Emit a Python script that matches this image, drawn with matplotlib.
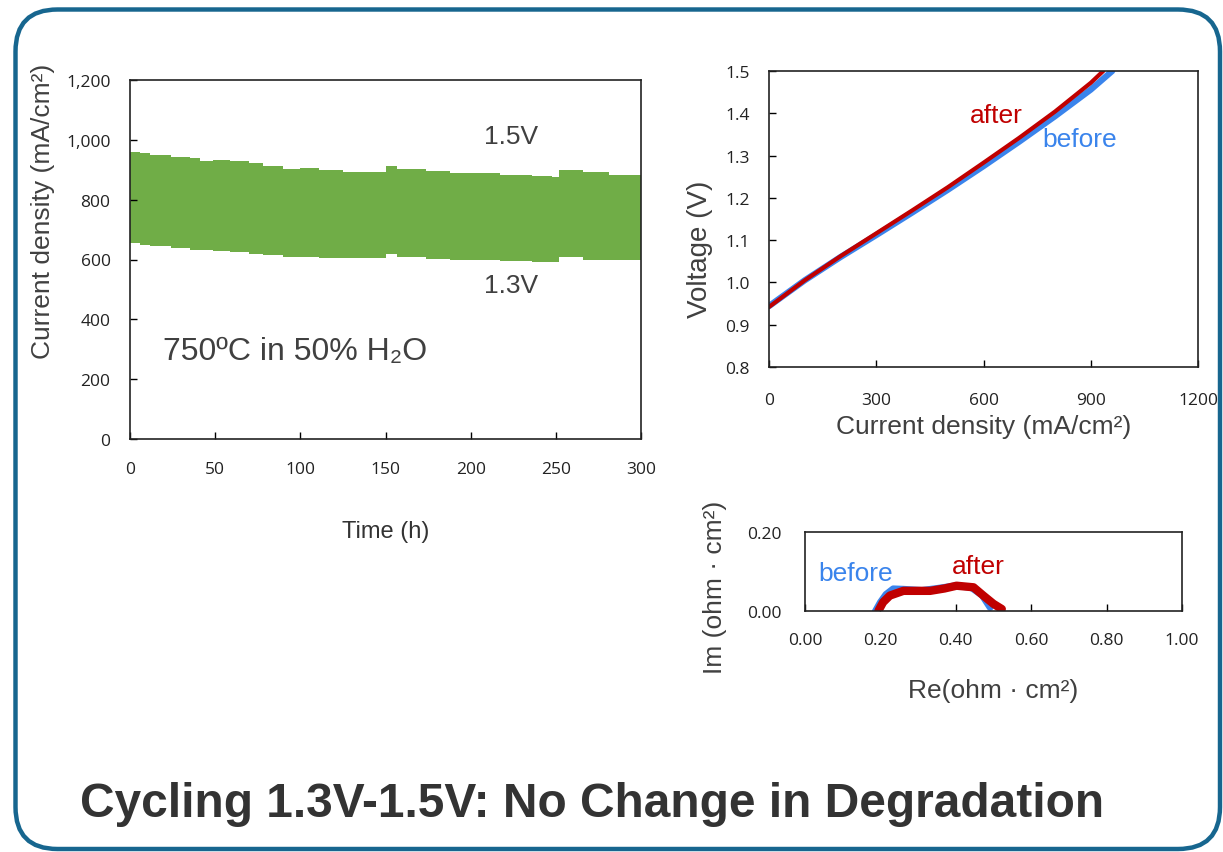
import numpy as np
import matplotlib
matplotlib.use('Agg')
import matplotlib.pyplot as plt
from matplotlib.patches import FancyBboxPatch
from matplotlib.ticker import FuncFormatter

plt.rcParams['font.family'] = ['Liberation Sans', 'DejaVu Sans']

# datos: ciclado 1.3V - 1.5V (densidad de corriente vs tiempo)
tiempo = [0, 6, 12, 24, 35, 41, 49, 59, 70, 78, 90, 100, 111, 125, 150, 157,
          174, 188, 217, 236, 248, 252, 266, 281, 300]
j_15V = [960, 956, 949, 942, 938, 928, 934, 930, 923, 914, 902, 905, 900, 893,
         911, 902, 897, 888, 883, 880, 877, 898, 893, 882, 877]
j_13V = [654, 650, 646, 640, 633, 631, 629, 626, 620, 615, 610, 607, 604, 604,
         617, 607, 603, 598, 596, 593, 593, 609, 600, 598, 598]

# curvas V-I antes / despues
j_before = [0, 100, 200, 300, 400, 500, 600, 700, 800, 900, 960]
v_before = [0.944, 1.005, 1.060, 1.112, 1.165, 1.219, 1.275, 1.333, 1.393, 1.456, 1.500]
j_after = [0, 100, 200, 300, 400, 500, 600, 700, 800, 900, 935]
v_after = [0.942, 1.005, 1.062, 1.116, 1.170, 1.225, 1.283, 1.342, 1.404, 1.472, 1.500]

# impedancia (Nyquist)
re_before = [0.186, 0.200, 0.215, 0.234, 0.26, 0.31, 0.35, 0.40, 0.44, 0.47, 0.491]
im_before = [-0.002, 0.022, 0.042, 0.056, 0.055, 0.052, 0.057, 0.064, 0.060, 0.040, 0.009]
re_after = [0.195, 0.207, 0.225, 0.261, 0.332, 0.37, 0.402, 0.447, 0.473, 0.500, 0.522]
im_after = [0.001, 0.022, 0.039, 0.051, 0.051, 0.057, 0.064, 0.060, 0.039, 0.018, 0.005]

gris = '#404040'
verde = '#70ad47'
rojo = '#c00000'
azul = '#3a84ec'
fuente_ticks = ['Open Sans', 'Liberation Sans']

fig = plt.figure(figsize=(12.23, 8.53), dpi=100)

# marco redondeado
marco = FancyBboxPatch((0.155, 0.03), 12.045, 8.395,
                       boxstyle='round,pad=0,rounding_size=0.42',
                       transform=fig.dpi_scale_trans, fill=False,
                       edgecolor='#17668f', linewidth=3.2)
fig.patches.append(marco)


def estilo_ticks(ax):
    for lab in ax.get_xticklabels() + ax.get_yticklabels():
        lab.set_family(fuente_ticks)
        lab.set_fontsize(12.5)
        lab.set_color('#222222')
    for s in ax.spines.values():
        s.set_linewidth(1.2)
        s.set_color('#222222')


# grafico izquierdo
ax1 = fig.add_axes([130/1223, 1-440/853, 511/1223, 359/853])
ax1.fill_between(tiempo, j_13V, j_15V, step='post', color=verde, linewidth=0)
ax1.set_xlim(0, 300)
ax1.set_ylim(0, 1200)
ax1.set_xticks(np.arange(0, 301, 50))
ax1.set_yticks(np.arange(0, 1201, 200))
ax1.yaxis.set_major_formatter(FuncFormatter(lambda v, p: f'{int(v):,}'))
ax1.tick_params(direction='in', length=5, width=1)
ax1.tick_params(axis='y', pad=14)
ax1.tick_params(axis='x', pad=16)
ax1.set_xlabel('Time (h)', fontsize=17, color='#333333', labelpad=31)
ax1.set_ylabel('Current density (mA/cm²)', fontsize=19, color=gris)
ax1.yaxis.set_label_coords(-0.147, 0.638)
ax1.text(0.065, 0.245, '750ºC in 50% H₂O', transform=ax1.transAxes,
         fontsize=23, color=gris, va='center')
ax1.text(0.745, 0.845, '1.5V', transform=ax1.transAxes, fontsize=19, color=gris,
         va='center', ha='center')
ax1.text(0.745, 0.43, '1.3V', transform=ax1.transAxes, fontsize=19, color=gris,
         va='center', ha='center')
estilo_ticks(ax1)

# grafico V-I
ax2 = fig.add_axes([769/1223, 1-368/853, 429/1223, 296/853])
ax2.plot(j_before, v_before, color=azul, linewidth=4.5, solid_capstyle='round')
ax2.plot(j_after, v_after, color=rojo, linewidth=3, solid_capstyle='round')
ax2.set_xlim(0, 1200)
ax2.set_ylim(0.8, 1.5)
ax2.set_xticks(np.arange(0, 1201, 300))
ax2.set_yticks(np.arange(0.8, 1.51, 0.1))
ax2.yaxis.set_major_formatter(FuncFormatter(lambda v, p: f'{v:.1f}'))
ax2.tick_params(direction='in', length=5, width=1)
ax2.tick_params(axis='x', pad=18)
ax2.tick_params(axis='y', pad=14)
ax2.set_xlabel('Current density (mA/cm²)', fontsize=19, color=gris, labelpad=4)
ax2.set_ylabel('Voltage (V)', fontsize=20, color=gris)
ax2.yaxis.set_label_coords(-0.130, 0.40)
ax2.text(0.531, 0.851, 'after', transform=ax2.transAxes, fontsize=19,
         color=rojo, va='center', ha='center')
ax2.text(0.725, 0.77, 'before', transform=ax2.transAxes, fontsize=19,
         color=azul, va='center', ha='center')
estilo_ticks(ax2)

# grafico Nyquist
ax3 = fig.add_axes([805/1223, 1-612/853, 377/1223, 79/853])
ax3.plot(re_before, im_before, color=azul, linewidth=5, solid_capstyle='round')
ax3.plot(re_after, im_after, color=rojo, linewidth=6, solid_capstyle='round')
ax3.set_xlim(0, 1.0)
ax3.set_ylim(0, 0.2)
ax3.set_xticks(np.arange(0, 1.01, 0.2))
ax3.set_yticks([0, 0.2])
ax3.xaxis.set_major_formatter(FuncFormatter(lambda v, p: f'{v:.2f}'))
ax3.yaxis.set_major_formatter(FuncFormatter(lambda v, p: f'{v:.2f}'))
ax3.tick_params(direction='in', length=5, width=1)
ax3.tick_params(axis='y', length=0, pad=17)
ax3.tick_params(axis='x', pad=15)
ax3.set_xlabel('Re(ohm · cm²)', fontsize=19, color=gris, labelpad=22)
ax3.set_ylabel('Im (ohm · cm²)', fontsize=19, color=gris)
ax3.yaxis.set_label_coords(-0.207, 0.316)
ax3.text(0.133, 0.48, 'before', transform=ax3.transAxes, fontsize=19,
         color=azul, va='center', ha='center')
ax3.text(0.459, 0.57, 'after', transform=ax3.transAxes, fontsize=19,
         color=rojo, va='center', ha='center')
estilo_ticks(ax3)

fig.text(80/1223, 1-805/853, 'Cycling 1.3V-1.5V: No Change in Degradation',
         fontsize=34.5, fontweight='bold', color='#333333', va='center')

fig.savefig('out.png', dpi=100)
